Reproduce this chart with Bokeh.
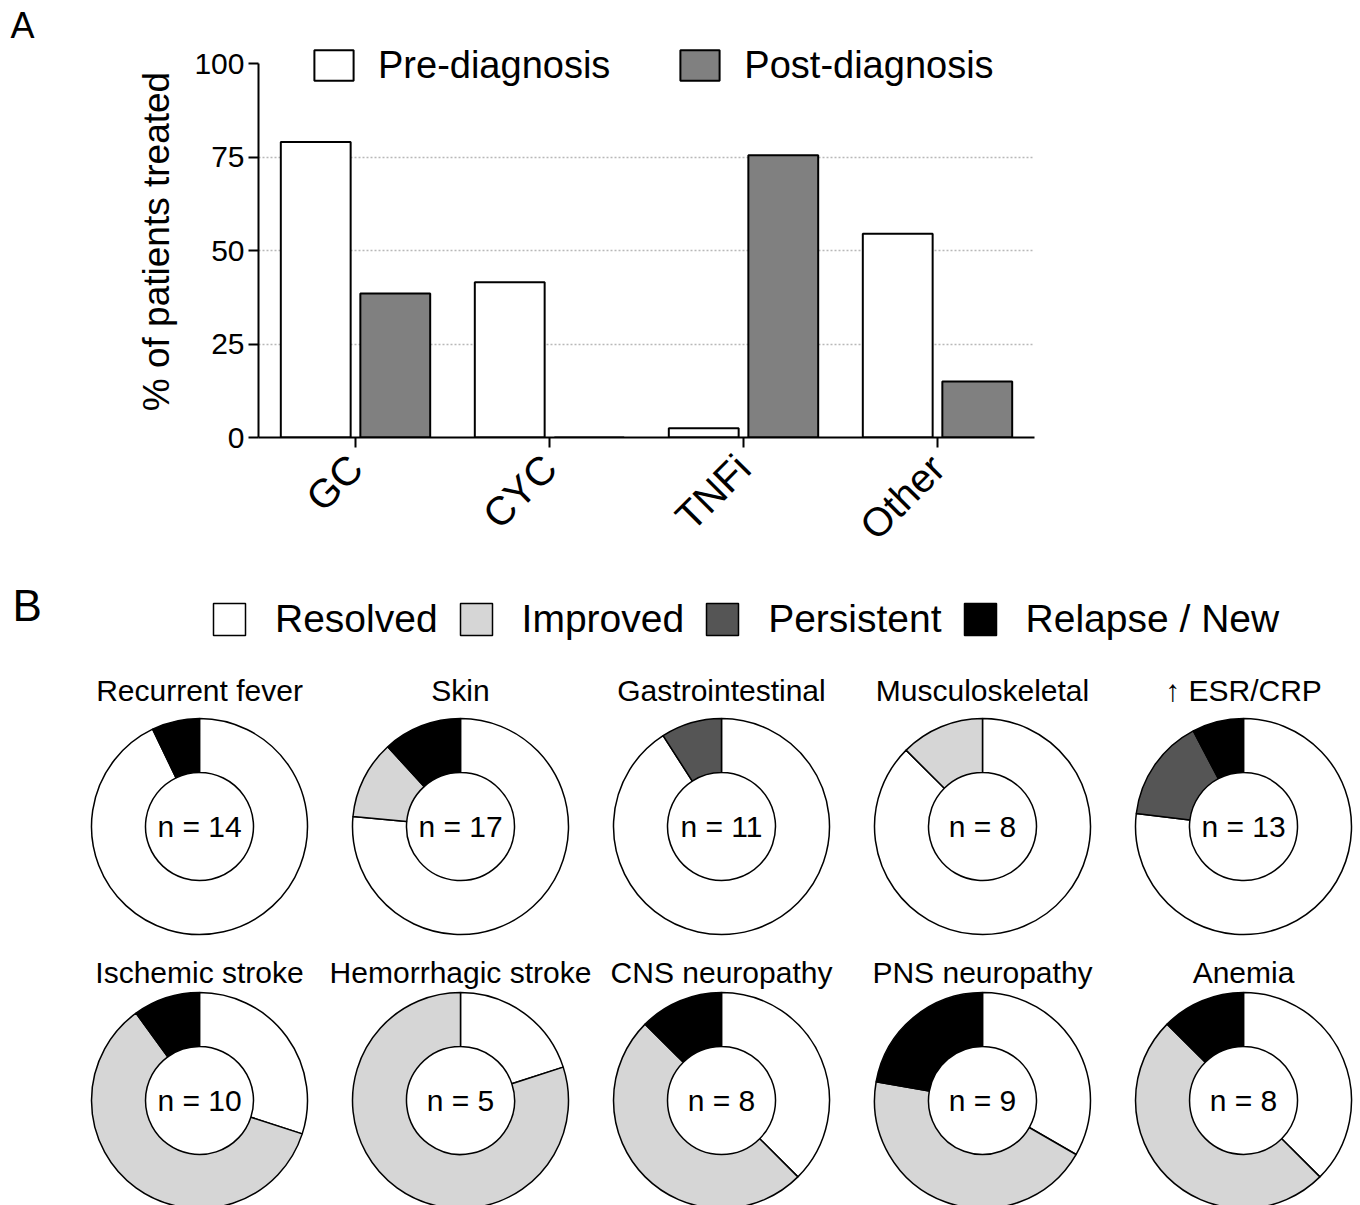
import math
from bokeh.plotting import figure
from bokeh.models import (ColumnDataSource, FactorRange, Range1d, FixedTicker, Legend,
                          LegendItem, Label)
from bokeh.transform import dodge
from bokeh.core.properties import value
from bokeh.embed import file_html
from bokeh.resources import INLINE

FONT = "Liberation Sans"

# ---------------- Panel A data ----------------
drugs = ["GC", "CYC", "TNFi", "Other"]
pre_diagnosis = [79, 41.5, 2.5, 54.5]
post_diagnosis = [38.5, 0, 75.5, 15]
y_ticks = [0, 25, 50, 75, 100]

# ---------------- Panel B data ----------------
organs = ["Recurrent fever", "Skin", "Gastrointestinal", "Musculoskeletal", "\u2191 ESR/CRP",
          "Ischemic stroke", "Hemorrhagic stroke", "CNS neuropathy", "PNS neuropathy", "Anemia"]
statuses = ["Resolved", "Improved", "Persistent", "Relapse / New"]
resolved = [13, 13, 10, 7, 10, 3, 1, 3, 3, 3]
improved = [0, 2, 0, 1, 0, 6, 4, 4, 4, 4]
persistent = [0, 0, 1, 0, 2, 0, 0, 0, 0, 0]
relapse = [1, 2, 0, 0, 1, 1, 0, 1, 2, 1]
status_colors = ["#ffffff", "#d6d6d6", "#555555", "#000000"]

W = 1360
H0 = 45          # header strip with "A"
HA = 578 - H0    # panel A figure
HB = 1205 - H0 - HA   # panel B figure

# ================= header strip =================
ph = figure(width=W, height=H0, x_range=Range1d(0, 1), y_range=Range1d(0, 1),
            output_backend="svg", toolbar_location=None, min_border=0,
            x_axis_type=None, y_axis_type=None)
ph.outline_line_color = None
ph.xgrid.visible = False
ph.ygrid.visible = False
ph.add_layout(Label(x=10, y=H0 - 4.5, x_units="screen", y_units="screen", text="A",
                    text_font=FONT, text_font_size="36px", text_baseline="top",
                    text_color="black"))

# ================= Panel A =================
FRAME_L, FRAME_W = 258, 776
FRAME_H = 437 - H0            # frame bottom (y = 0) at page y 437
PX_PER_UNIT = 3.74            # 100 % spans 374 px
src = ColumnDataSource(dict(cat=drugs, pre=pre_diagnosis, post=post_diagnosis))
pa = figure(width=W, height=HA, x_range=FactorRange(*drugs),
            y_range=Range1d(0, FRAME_H / PX_PER_UNIT),
            output_backend="svg", toolbar_location=None,
            min_border_left=FRAME_L, min_border_right=W - FRAME_L - FRAME_W,
            min_border_top=0, min_border_bottom=HA - FRAME_H)
pa.outline_line_color = None

r_pre = pa.vbar(x=dodge("cat", -0.205, range=pa.x_range), top="pre", width=0.36, source=src,
                fill_color="white", line_color="black", line_width=2)
r_post = pa.vbar(x=dodge("cat", 0.205, range=pa.x_range), top="post", width=0.36, source=src,
                 fill_color="#808080", line_color="black", line_width=2)

pa.xgrid.visible = False
pa.ygrid.ticker = FixedTicker(ticks=[25, 50, 75])
pa.ygrid.grid_line_color = "#b8b8b8"
pa.ygrid.grid_line_dash = "2 2"
pa.ygrid.grid_line_width = 1.5

ya = pa.yaxis[0]
ya.bounds = (0, 100)
ya.ticker = FixedTicker(ticks=y_ticks)
ya.axis_label = "% of patients treated"
ya.axis_label_text_font = FONT
ya.axis_label_text_font_style = "normal"
ya.axis_label_text_font_size = "37px"
ya.axis_label_text_color = "black"
ya.axis_label_standoff = 14
ya.major_label_text_font = FONT
ya.major_label_text_font_size = "30px"
ya.major_label_text_color = "black"
ya.major_label_standoff = 4
ya.minor_tick_line_color = None
ya.major_tick_in = 0
ya.major_tick_out = 10
ya.major_tick_line_width = 2
ya.axis_line_width = 2
ya.axis_line_color = "black"

xa = pa.xaxis[0]
xa.major_label_orientation = math.pi / 4
xa.major_label_text_font = FONT
xa.major_label_text_font_size = "40px"
xa.major_label_text_color = "black"
xa.major_label_standoff = 14
xa.major_tick_in = 0
xa.major_tick_out = 10
xa.major_tick_line_width = 2
xa.axis_line_width = 2
xa.axis_line_color = "black"

LEG_A_TOP = 47.5   # page y of the legend's top edge
leg_a = Legend(items=[LegendItem(label="Pre-diagnosis", renderers=[r_pre]),
                      LegendItem(label="Post-diagnosis", renderers=[r_post])],
               orientation="horizontal",
               location=(51, FRAME_H - (LEG_A_TOP - H0) - 39),
               glyph_width=49, glyph_height=38, label_standoff=20, spacing=65,
               padding=0, margin=0, border_line_color=None, background_fill_alpha=0,
               label_text_font=FONT, label_text_font_size="38px", label_text_color="black")
pa.add_layout(leg_a)

# ================= Panel B =================
Y0 = H0 + HA     # page y where panel B starts
pb = figure(width=W, height=HB, x_range=Range1d(0, W), y_range=Range1d(-(Y0 + HB), -Y0),
            output_backend="svg", toolbar_location=None, min_border=0,
            x_axis_type=None, y_axis_type=None)
pb.outline_line_color = None
pb.xgrid.visible = False
pb.ygrid.visible = False

counts = [resolved, improved, persistent, relapse]
col_x0, col_dx = 199, 261
row_cy = [826, 1100]
row_title_y = [690, 971.5]
R_OUT, R_IN = 108, 54

wedge_data = {s: dict(x=[], y=[], start=[], end=[]) for s in statuses}
title_x, title_y, n_x, n_y, n_txt = [], [], [], [], []
for i, organ in enumerate(organs):
    col, row = i % 5, i // 5
    cx = col_x0 + col_dx * col
    cy = -row_cy[row]
    n = sum(c[i] for c in counts)
    cum = 0
    for s, c in zip(statuses, counts):
        k = c[i]
        if k > 0:
            a0 = 2 * math.pi * cum / n
            a1 = 2 * math.pi * (cum + k) / n
            d = wedge_data[s]
            d["x"].append(cx)
            d["y"].append(cy)
            d["start"].append(math.pi / 2 - a1)
            d["end"].append(math.pi / 2 - a0)
        cum += k
    title_x.append(cx)
    title_y.append(-row_title_y[row])
    n_x.append(cx)
    n_y.append(cy)
    n_txt.append(f"n = {n}")

legend_items = []
for s, colr in zip(statuses, status_colors):
    r = pb.annular_wedge(x="x", y="y", start_angle="start", end_angle="end",
                         inner_radius=R_IN, outer_radius=R_OUT, direction="anticlock",
                         source=ColumnDataSource(wedge_data[s]),
                         fill_color=colr, line_color="black", line_width=1.5)
    legend_items.append(LegendItem(label=s, renderers=[r]))

pb.text(x=title_x, y=title_y, text=organs, text_align="center", text_baseline="middle",
        text_font=value(FONT), text_font_size="30px", text_color="black")
pb.text(x=n_x, y=n_y, text=n_txt, text_align="center", text_baseline="middle",
        text_font=value(FONT), text_font_size="30px", text_color="black")

leg_b = Legend(items=legend_items, orientation="horizontal",
               location=(209, HB - (599 - Y0) - 42),
               glyph_width=40, glyph_height=40, label_standoff=26, spacing=18,
               padding=0, margin=0, border_line_color=None, background_fill_alpha=0,
               label_text_font=FONT, label_text_font_size="39px", label_text_color="black")
pb.add_layout(leg_b)

pb.add_layout(Label(x=12, y=HB - 2, x_units="screen", y_units="screen", text="B",
                    text_font=FONT, text_font_size="44px", text_baseline="top",
                    text_color="black"))

open("out.html", "w").write(file_html([ph, pa, pb], INLINE))
